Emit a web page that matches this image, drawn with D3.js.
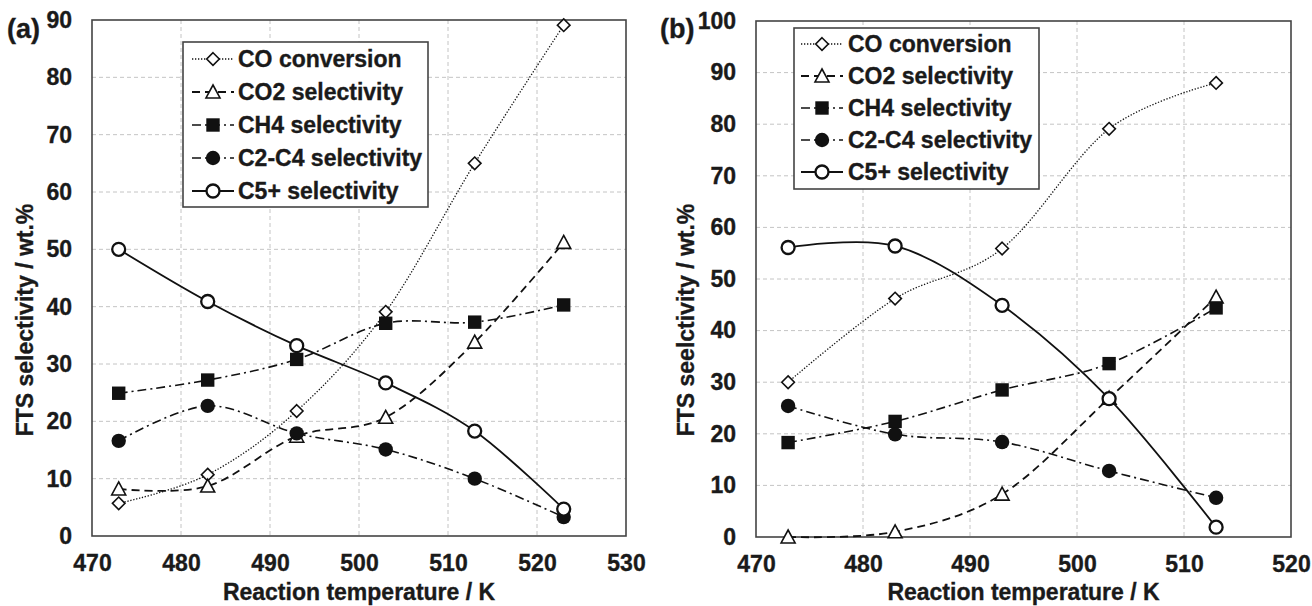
<!DOCTYPE html>
<html><head><meta charset="utf-8">
<script src="https://cdn.jsdelivr.net/npm/d3@7"></script>
<style>
body{margin:0;background:#fff;}
text{font-family:"Liberation Sans",Arial,sans-serif;font-weight:bold;fill:#1a1a1a;stroke:#1a1a1a;stroke-width:0.35px;}
</style>
</head><body>
<svg id="c" width="1312" height="606"></svg>
<script>
// ---- data ----
const seriesNames = ["CO conversion","CO2 selectivity","CH4 selectivity","C2-C4 selectivity","C5+ selectivity"];

const tempA   = [473, 483, 493, 503, 513, 523];
const coConvA = [5.7, 10.7, 21.8, 39.1, 65.0, 89.1];
const co2SelA = [8.2, 8.7, 17.4, 20.7, 33.8, 51.2];
const ch4SelA = [24.9, 27.2, 30.8, 37.1, 37.3, 40.3];
const c2c4SelA = [16.6, 22.7, 17.9, 15.1, 10.0, 3.3];
const c5SelA  = [50.0, 40.9, 33.2, 26.7, 18.3, 4.7];

const tempB   = [473, 483, 493, 503, 513];
const coConvB = [30.0, 46.2, 55.9, 79.1, 88.0];
const co2SelB = [0.0, 1.0, 8.3, 26.9, 46.5];
const ch4SelB = [18.3, 22.4, 28.5, 33.6, 44.4];
const c2c4SelB = [25.4, 19.9, 18.4, 12.8, 7.6];
const c5SelB  = [56.1, 56.4, 44.9, 26.8, 1.9];

const xTicksA = [470, 480, 490, 500, 510, 520, 530];
const yTicksA = [0, 10, 20, 30, 40, 50, 60, 70, 80, 90];
const xTicksB = [470, 480, 490, 500, 510, 520];
const yTicksB = [0, 10, 20, 30, 40, 50, 60, 70, 80, 90, 100];

const panelLabels = ["(a)", "(b)"];
const xTitle = "Reaction temperature / K";
const yTitles = ["FTS selectivity / wt.%", "FTS seelctivity / wt.%"];

// ---- styles ----
const styles = [
  {dash:"1.3,1.7", width:1.3, marker:"diamond"},
  {dash:"8,5",     width:1.8, marker:"triangle"},
  {dash:"9,4,2,4", width:1.6, marker:"square"},
  {dash:"9,4,2,4", width:1.6, marker:"dot"},
  {dash:null,      width:1.8, marker:"ring"}
];
const INK = "#111";
const FS = 23;

const svg = d3.select("#c");

function drawMarker(g, type, cx, cy){
  if(type==="diamond"){
    const s=6.3;
    g.append("path").attr("d",`M${cx},${cy-s}L${cx+s},${cy}L${cx},${cy+s}L${cx-s},${cy}Z`)
     .attr("fill","#fff").attr("stroke",INK).attr("stroke-width",1.6);
  } else if(type==="triangle"){
    const s=7;
    g.append("path").attr("d",`M${cx},${cy-s}L${cx+s},${cy+s*0.85}L${cx-s},${cy+s*0.85}Z`)
     .attr("fill","#fff").attr("stroke",INK).attr("stroke-width",1.6);
  } else if(type==="square"){
    const s=6.7;
    g.append("rect").attr("x",cx-s).attr("y",cy-s).attr("width",2*s).attr("height",2*s).attr("fill",INK);
  } else if(type==="dot"){
    g.append("circle").attr("cx",cx).attr("cy",cy).attr("r",7.2).attr("fill",INK);
  } else if(type==="ring"){
    g.append("circle").attr("cx",cx).attr("cy",cy).attr("r",6.5).attr("fill","#fff")
     .attr("stroke",INK).attr("stroke-width",2.3);
  }
}

function drawPanel(cfg){
  const g = svg.append("g");
  const x = d3.scaleLinear().domain([cfg.xTicks[0], cfg.xTicks[cfg.xTicks.length-1]]).range([cfg.left, cfg.right]);
  const y = d3.scaleLinear().domain([cfg.yTicks[0], cfg.yTicks[cfg.yTicks.length-1]]).range([cfg.bottom, cfg.top]);

  // grid
  const grid = g.append("g").attr("stroke","#c4c4c4").attr("stroke-width",1).attr("stroke-dasharray","4,3");
  cfg.xTicks.slice(1,-1).forEach(t=>grid.append("line").attr("x1",x(t)).attr("x2",x(t)).attr("y1",cfg.top).attr("y2",cfg.bottom));
  cfg.yTicks.slice(1,-1).forEach(t=>grid.append("line").attr("y1",y(t)).attr("y2",y(t)).attr("x1",cfg.left).attr("x2",cfg.right));

  // axes (labels only, via d3 axis)
  const ax = g.append("g").attr("transform",`translate(0,${cfg.bottom})`)
    .call(d3.axisBottom(x).tickValues(cfg.xTicks).tickSize(0).tickPadding(19).tickFormat(d3.format("d")));
  const ay = g.append("g").attr("transform",`translate(${cfg.left},0)`)
    .call(d3.axisLeft(y).tickValues(cfg.yTicks).tickSize(0).tickPadding(20).tickFormat(d3.format("d")));
  [ax,ay].forEach(a=>{a.select(".domain").remove(); a.selectAll("text").attr("font-size",FS).attr("fill","#1a1a1a").style("font-family","'Liberation Sans',Arial,sans-serif").style("font-weight","bold");});

  // frame
  g.append("rect").attr("x",cfg.left).attr("y",cfg.top).attr("width",cfg.right-cfg.left).attr("height",cfg.bottom-cfg.top)
   .attr("fill","none").attr("stroke","#444").attr("stroke-width",1.6);

  // series
  const line = d3.line().x(d=>x(d[0])).y(d=>y(d[1])).curve(d3.curveCatmullRom.alpha(0));
  cfg.series.forEach((vals,i)=>{
    const st = styles[i];
    const pts = cfg.temps.map((t,j)=>[t, vals[j]]);
    g.append("path").attr("d",line(pts)).attr("fill","none").attr("stroke",INK)
      .attr("stroke-width",st.width).attr("stroke-dasharray",st.dash);
    pts.forEach(p=>drawMarker(g, st.marker, x(p[0]), y(p[1])));
  });

  // legend
  const L = cfg.legend;
  g.append("rect").attr("x",L.x).attr("y",L.y).attr("width",L.w).attr("height",L.h)
   .attr("fill","#fff").attr("stroke","#444").attr("stroke-width",1.6);
  seriesNames.forEach((name,i)=>{
    const st = styles[i];
    const cy = L.y + L.first + i*L.step;
    g.append("line").attr("x1",L.s0).attr("x2",L.s1).attr("y1",cy).attr("y2",cy)
      .attr("stroke",INK).attr("stroke-width",st.width).attr("stroke-dasharray",st.dash);
    drawMarker(g, st.marker, (L.s0+L.s1)/2, cy);
    g.append("text").attr("x",L.tx).attr("y",cy).attr("dy","0.36em").attr("font-size",FS).text(name);
  });

  // titles
  g.append("text").attr("x",(cfg.left+cfg.right)/2).attr("y",600).attr("text-anchor","middle").attr("font-size",FS).text(xTitle);
  g.append("text").attr("transform",`translate(${cfg.ytx},${cfg.yty}) rotate(-90)`).attr("text-anchor","middle")
    .attr("dy","0.36em").attr("font-size",FS).text(cfg.yTitle);
  g.append("text").attr("x",cfg.lx).attr("y",38).attr("font-size",27).text(cfg.label);
}

drawPanel({
  left:92, right:626, top:20, bottom:536,
  xTicks:xTicksA, yTicks:yTicksA, temps:tempA,
  series:[coConvA, co2SelA, ch4SelA, c2c4SelA, c5SelA],
  legend:{x:183, y:42, w:245, h:165, first:17, step:33, s0:192, s1:234, tx:238},
  yTitle:yTitles[0], ytx:25, yty:320, label:panelLabels[0], lx:7
});
drawPanel({
  left:756, right:1291, top:21, bottom:537,
  xTicks:xTicksB, yTicks:yTicksB, temps:tempB,
  series:[coConvB, co2SelB, ch4SelB, c2c4SelB, c5SelB],
  legend:{x:794, y:28, w:245, h:161, first:16, step:32, s0:801, s1:843, tx:848},
  yTitle:yTitles[1], ytx:686, yty:320, label:panelLabels[1], lx:660
});
</script>
</body></html>
